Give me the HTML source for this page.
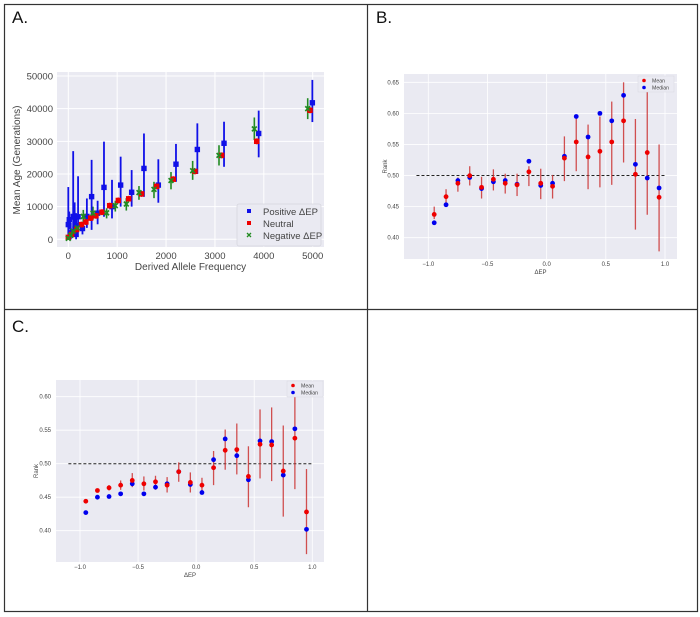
<!DOCTYPE html>
<html><head><meta charset="utf-8"><style>
body{margin:0;background:#fff;}
svg{display:block;font-family:"Liberation Sans","DejaVu Sans",sans-serif;}
</style></head><body>
<svg id="fig" width="700" height="617" viewBox="0 0 700 617">
<rect x="0" y="0" width="700" height="617" fill="#fff"/>
<g stroke="#333" stroke-width="1.2" fill="none">
<rect x="4.5" y="4.5" width="693" height="607"/>
<line x1="367.5" y1="4.5" x2="367.5" y2="611.5"/>
<line x1="4.5" y1="309.5" x2="697.5" y2="309.5"/>
</g>
<text x="12" y="23" font-size="17" fill="#111">A.</text>
<text x="376" y="23" font-size="17" fill="#111">B.</text>
<text x="12" y="332" font-size="17" fill="#111">C.</text>
<g id="pa"></g>
<g id="pb"></g>
<g id="pc"></g>
</svg>
<script>
// ---------- Panel A data ----------
const posX = [0,20,50,100,130,160,200,290,380,477,600,730,894,1071,1296,1548,1842,2203,2640,3186,3895,4993];
const posY = [4500,6000,2000,7000,6800,1500,6900,3300,7000,13060,8000,15900,10000,16600,14400,21700,16600,23000,27500,29400,32400,41800];
const posHi = [16000,8500,5000,27000,11300,8000,19300,5000,12500,24300,11800,29900,18200,25300,21200,32400,24500,29200,35500,36000,39400,48800];
const posLo = [0,3000,0,1000,2000,0,2500,1500,3500,2900,4600,6900,6400,10000,10000,13000,11200,17600,20000,22200,25100,35900];
const neuX = [0,68,170,270,360,457,566,689,846,1023,1235,1500,1808,2149,2592,3138,3854,4945];
const neuY = [600,1500,3000,4500,5300,6500,7200,8300,10300,11900,12400,13900,16200,18400,20800,25700,30000,39500];
const negX = [0,50,100,184,307,505,784,962,1187,1446,1753,2101,2544,3083,3806,4898];
const negY = [300,1200,2500,3500,7000,8000,8100,10300,10800,14300,15300,18000,21000,25700,33800,40000];
const negHi = [1300,2500,4000,5000,9000,10000,9500,11800,12600,16300,17600,20600,24000,28800,37300,43200];
const negLo = [0,0,1000,2000,4400,6000,6400,8500,8800,12100,12600,15300,18200,22600,30400,36800];
const aXTicks = [0,1000,2000,3000,4000,5000];
const aYTicks = [0,10000,20000,30000,40000,50000];

// ---------- Panel B data ----------
const bX = [-0.95,-0.85,-0.75,-0.65,-0.55,-0.45,-0.35,-0.25,-0.15,-0.05,0.05,0.15,0.25,0.35,0.45,0.55,0.65,0.75,0.85,0.95];
const bMean = [0.4375,0.466,0.4875,0.4998,0.481,0.494,0.4875,0.485,0.506,0.4875,0.4826,0.528,0.554,0.530,0.539,0.554,0.588,0.502,0.537,0.465];
const bMedian = [0.424,0.453,0.492,0.497,0.479,0.490,0.492,0.486,0.523,0.484,0.4875,0.531,0.595,0.562,0.600,0.588,0.629,0.518,0.496,0.480];
const bHi = [0.450,0.478,0.497,0.515,0.498,0.510,0.503,0.503,0.515,0.511,0.501,0.563,0.595,0.582,0.595,0.619,0.650,0.591,0.648,0.550];
const bLo = [0.430,0.454,0.474,0.484,0.463,0.476,0.471,0.467,0.483,0.462,0.463,0.491,0.507,0.478,0.481,0.485,0.521,0.413,0.437,0.378];
const bYTicks = [0.40,0.45,0.50,0.55,0.60,0.65];
const xTicksDEP = [-1.0,-0.5,0.0,0.5,1.0];

// ---------- Panel C data ----------
const cX = [-0.95,-0.85,-0.75,-0.65,-0.55,-0.45,-0.35,-0.25,-0.15,-0.05,0.05,0.15,0.25,0.35,0.45,0.55,0.65,0.75,0.85,0.95];
const cMean = [0.444,0.460,0.464,0.468,0.475,0.470,0.473,0.468,0.488,0.472,0.468,0.494,0.520,0.521,0.481,0.529,0.528,0.489,0.538,0.428];
const cMedian = [0.427,0.450,0.451,0.455,0.470,0.455,0.465,0.470,0.488,0.469,0.457,0.506,0.537,0.512,0.476,0.534,0.533,0.483,0.552,0.402];
const cHi = [0.445,0.462,0.468,0.475,0.486,0.481,0.482,0.480,0.502,0.487,0.479,0.519,0.551,0.560,0.526,0.581,0.584,0.557,0.600,0.492];
const cLo = [0.443,0.458,0.460,0.461,0.465,0.460,0.461,0.457,0.473,0.457,0.457,0.468,0.491,0.484,0.435,0.478,0.474,0.421,0.462,0.365];
const cYTicks = [0.40,0.45,0.50,0.55,0.60];

const NS = "http://www.w3.org/2000/svg";
function mk(parent, tag, attrs, txt){
  const e = document.createElementNS(NS, tag);
  for (const k in attrs) e.setAttribute(k, attrs[k]);
  if (txt !== undefined) e.textContent = txt;
  parent.appendChild(e);
  return e;
}

// ================= Panel A =================
(function(){
  const g = document.getElementById('pa');
  const X0=57, X1=324, Y0=72, Y1=247;
  const sx = v => 68.3 + v * (312.7-68.3)/5000;
  const sy = v => 239.3 - v * (239.3-76)/50000;
  const bg = mk(g,'rect',{x:X0,y:Y0,width:X1-X0,height:Y1-Y0,fill:'#eaeaf2'});
  
  
  aXTicks.forEach(t=>{
    const l = mk(g,'line',{x1:sx(t),x2:sx(t),y1:Y0,y2:Y1,stroke:'#fff','stroke-width':1});
    
    
    const tx = mk(g,'text',{x:sx(t),y:Y1+12,'font-size':9.5,'text-anchor':'middle',fill:'#444'},String(t));
    
    
  });
  aYTicks.forEach(t=>{
    const l = mk(g,'line',{x1:X0,x2:X1,y1:sy(t),y2:sy(t),stroke:'#fff','stroke-width':1});
    
    
    const tx = mk(g,'text',{x:X0-4,y:sy(t)+3.5,'font-size':9.5,'text-anchor':'end',fill:'#444'},String(t));
    
    
  });
  const xl = mk(g,'text',{x:(X0+X1)/2,y:270,'font-size':10,'text-anchor':'middle',fill:'#444'},'Derived Allele Frequency');
  
  
  const yl = mk(g,'text',{x:0,y:0,'font-size':10,'text-anchor':'middle',fill:'#444',transform:'translate(20,160) rotate(-90)'},'Mean Age (Generations)');
  
  

  negX.forEach((v,i)=>{
    const l = mk(g,'line',{x1:sx(v),x2:sx(v),y1:sy(negHi[i]),y2:sy(negLo[i]),stroke:'#228b22','stroke-width':1.6});
    
    
  });
  posX.forEach((v,i)=>{
    const l = mk(g,'line',{x1:sx(v),x2:sx(v),y1:sy(posHi[i]),y2:sy(posLo[i]),stroke:'#1010e8','stroke-width':1.8});
    
    
  });
  posX.forEach((v,i)=>{
    const r = mk(g,'rect',{x:sx(v)-2.7,y:sy(posY[i])-2.7,width:5.4,height:5.4,fill:'#1010e8'});
    
    
  });
  neuX.forEach((v,i)=>{
    const l = mk(g,'line',{x1:sx(v),x2:sx(v),y1:sy(neuY[i]+900),y2:sy(Math.max(0,neuY[i]-900)),stroke:'#e00000','stroke-width':1.6});
    
    
    const r = mk(g,'rect',{x:sx(v)-2.7,y:sy(neuY[i])-2.7,width:5.4,height:5.4,fill:'#ee0000'});
    
    
  });
  negX.forEach((v,i)=>{
    const cx=sx(v), cy=sy(negY[i]);
    const p = mk(g,'path',{d:`M${cx-2.4},${cy-2.4}L${cx+2.4},${cy+2.4}M${cx-2.4},${cy+2.4}L${cx+2.4},${cy-2.4}`,stroke:'#228b22','stroke-width':1.7});
    
    
  });
  const lg = mk(g,'g',{});
  
  
  mk(lg,'rect',{x:237,y:204,width:84,height:42,fill:'#eaeaf2',stroke:'#d6d6de','stroke-width':0.8,rx:2});
  mk(lg,'rect',{x:247,y:209,width:4,height:4,fill:'#1010e8'});
  mk(lg,'text',{x:263,y:215,'font-size':9.5,fill:'#444'},'Positive ΔEP');
  mk(lg,'rect',{x:247,y:221,width:4,height:4,fill:'#ee0000'});
  mk(lg,'text',{x:263,y:227,'font-size':9.5,fill:'#444'},'Neutral');
  mk(lg,'path',{d:'M247,233L251,237M247,237L251,233',stroke:'#228b22','stroke-width':1.3});
  mk(lg,'text',{x:263,y:239,'font-size':9.5,fill:'#444'},'Negative ΔEP');
})();

// ================= Rank panels =================
function rankPanel(gid, P, xs, mean, med, hi, lo, yTicks, prefix){
  const g = document.getElementById(gid);
  const sx = v => P.xm1 + (v+1)*(P.x1v - P.xm1)/2;
  const sy = v => P.yA + (v - P.vA)*(P.yB - P.yA)/(P.vB - P.vA);
  const bg = mk(g,'rect',{x:P.X0,y:P.Y0,width:P.X1-P.X0,height:P.Y1-P.Y0,fill:'#eaeaf2'});
  
  
  xTicksDEP.forEach(t=>{
    const l = mk(g,'line',{x1:sx(t),x2:sx(t),y1:P.Y0,y2:P.Y1,stroke:'#fff','stroke-width':0.8});
    
    
    const tx = mk(g,'text',{x:sx(t),y:P.Y1+7,'font-size':6,'text-anchor':'middle',fill:'#444'},(t<0?'\u2212':'')+Math.abs(t).toFixed(1));
    
    
  });
  yTicks.forEach(t=>{
    const l = mk(g,'line',{x1:P.X0,x2:P.X1,y1:sy(t),y2:sy(t),stroke:'#fff','stroke-width':0.8});
    
    
    const tx = mk(g,'text',{x:P.X0-5,y:sy(t)+2,'font-size':6,'text-anchor':'end',fill:'#444'},t.toFixed(2));
    
    
  });
  const xl = mk(g,'text',{x:(P.X0+P.X1)/2,y:P.Y1+15,'font-size':6,'text-anchor':'middle',fill:'#444'},'ΔEP');
  
  
  const yl = mk(g,'text',{x:0,y:0,'font-size':6,'text-anchor':'middle',fill:'#444',transform:`translate(${P.ylx},${(P.Y0+P.Y1)/2}) rotate(-90)`},'Rank');
  
  
  const dl = mk(g,'line',{x1:sx(-1.1),x2:sx(1.0),y1:sy(0.5),y2:sy(0.5),stroke:'#222','stroke-width':1,'stroke-dasharray':'3,2'});
  
  
  xs.forEach((v,i)=>{
    const l = mk(g,'line',{x1:sx(v),x2:sx(v),y1:sy(hi[i]),y2:sy(lo[i]),stroke:'#cc3333','stroke-width':1.3,opacity:0.85});
    
    
  });
  xs.forEach((v,i)=>{
    const c = mk(g,'circle',{cx:sx(v),cy:sy(med[i]),r:2.4,fill:'#0000ee'});
    
    
  });
  xs.forEach((v,i)=>{
    const c = mk(g,'circle',{cx:sx(v),cy:sy(mean[i]),r:2.4,fill:'#ee0000'});
    
    
  });
  const lg = mk(g,'g',{});
  
  
  mk(lg,'rect',{x:P.lx,y:P.ly,width:36,height:16,fill:'#eaeaf2',stroke:'#d8d8e0','stroke-width':0.5});
  mk(lg,'circle',{cx:P.lx+6,cy:P.ly+4.5,r:1.8,fill:'#ee0000'});
  mk(lg,'text',{x:P.lx+14,y:P.ly+6.3,'font-size':5.2,fill:'#444'},'Mean');
  mk(lg,'circle',{cx:P.lx+6,cy:P.ly+11.5,r:1.8,fill:'#0000ee'});
  mk(lg,'text',{x:P.lx+14,y:P.ly+13.3,'font-size':5.2,fill:'#444'},'Median');
}
rankPanel('pb',{X0:404,X1:677,Y0:74,Y1:259,xm1:428.3,x1v:665,yA:82.3,vA:0.65,yB:237.7,vB:0.40,ylx:387,lx:638,ly:76},
  bX,bMean,bMedian,bHi,bLo,bYTicks,'panel-b');
rankPanel('pc',{X0:56,X1:324,Y0:380,Y1:562,xm1:80,x1v:312.3,yA:396.7,vA:0.60,yB:530.7,vB:0.40,ylx:38,lx:287,ly:381},
  cX,cMean,cMedian,cHi,cLo,cYTicks,'panel-c');
</script>
</body></html>
